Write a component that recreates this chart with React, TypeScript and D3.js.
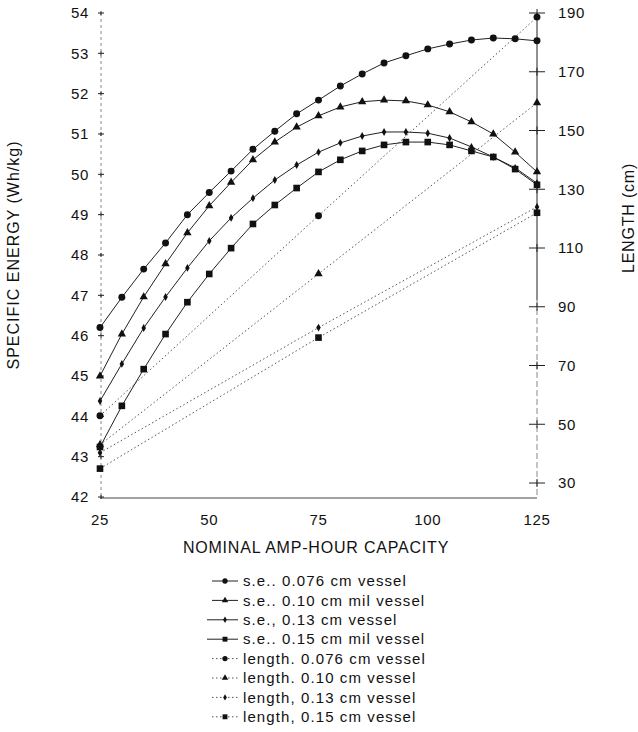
import React, { useEffect, useRef } from 'react';
import * as d3 from 'd3';

// nominal amp-hour capacity for the specific energy curves
const capacity = [25, 30, 35, 40, 45, 50, 55, 60, 65, 70, 75, 80, 85, 90, 95, 100, 105, 110, 115, 120, 125];

// specific energy (Wh/kg)
const se076 = [46.2, 46.95, 47.65, 48.3, 49.0, 49.55, 50.08, 50.62, 51.07, 51.5, 51.84, 52.19, 52.49, 52.76, 52.94, 53.11, 53.23, 53.33, 53.38, 53.36, 53.31];
const se010 = [45.0, 46.04, 46.96, 47.78, 48.55, 49.22, 49.8, 50.36, 50.8, 51.17, 51.45, 51.67, 51.8, 51.84, 51.82, 51.72, 51.55, 51.3, 51.0, 50.55, 50.06];
const se013 = [44.38, 45.3, 46.19, 46.96, 47.68, 48.35, 48.92, 49.41, 49.86, 50.23, 50.55, 50.78, 50.95, 51.05, 51.05, 51.02, 50.9, 50.68, 50.43, 50.16, 49.78];
const se015 = [43.24, 44.26, 45.17, 46.04, 46.83, 47.53, 48.17, 48.77, 49.24, 49.66, 50.06, 50.36, 50.58, 50.73, 50.8, 50.8, 50.73, 50.58, 50.43, 50.13, 49.74];

// length (cm)
const lengthCapacity = [25, 75, 125];
const len076 = [52.9, 121, 188.6];
const len010 = [43, 101.2, 159.4];
const len013 = [40.3, 82.9, 124];
const len015 = [34.9, 79.5, 122];

const leftTicks = [42, 43, 44, 45, 46, 47, 48, 49, 50, 51, 52, 53, 54];
const rightTicks = [30, 50, 70, 90, 110, 130, 150, 170, 190];
const xTicks = [25, 50, 75, 100, 125];

const legendLabels = [
  's.e.. 0.076 cm vessel',
  's.e.. 0.10 cm mil vessel',
  's.e., 0.13 cm vessel',
  's.e.. 0.15 cm mil vessel',
  'length. 0.076 cm vessel',
  'length. 0.10 cm vessel',
  'length, 0.13 cm vessel',
  'length, 0.15 cm vessel',
];

const font = '"Liberation Sans", Arial, Helvetica, sans-serif';

const App = () => {
  const svgRef = useRef<SVGSVGElement>(null);

  useEffect(() => {
    const svg = d3.select(svgRef.current);
    svg.selectAll('*').remove();

    const x = d3.scaleLinear().domain([25, 125]).range([100, 537]);
    const yL = d3.scaleLinear().domain([42, 54]).range([497, 13]);
    const yR = d3.scaleLinear().domain([30, 190]).range([483, 13]);

    const symbols = [
      d3.symbol().type(d3.symbolCircle).size(38),
      d3.symbol().type(d3.symbolTriangle).size(30),
      d3.symbol().type(d3.symbolDiamond).size(18),
      d3.symbol().type(d3.symbolSquare).size(44),
    ];
    const legendSymbols = [
      d3.symbol().type(d3.symbolCircle).size(22),
      d3.symbol().type(d3.symbolTriangle).size(18),
      d3.symbol().type(d3.symbolDiamond).size(12),
      d3.symbol().type(d3.symbolSquare).size(24),
    ];

    // axes
    svg.append('line')
      .attr('x1', 101).attr('x2', 101).attr('y1', 13).attr('y2', 498)
      .attr('stroke', '#888').attr('stroke-dasharray', '3,3');
    svg.append('line')
      .attr('x1', 100).attr('x2', 537).attr('y1', 498).attr('y2', 498)
      .attr('stroke', '#444');
    svg.append('line')
      .attr('x1', 537).attr('x2', 537).attr('y1', 13).attr('y2', 300)
      .attr('stroke', '#222');
    svg.append('line')
      .attr('x1', 537).attr('x2', 537).attr('y1', 300).attr('y2', 498)
      .attr('stroke', '#888').attr('stroke-dasharray', '6,3');

    const lt = svg.append('g').selectAll('g').data(leftTicks).join('g')
      .attr('transform', d => `translate(101,${yL(d)})`);
    lt.append('path').attr('d', 'M-3,0H3M0,-2V2').attr('stroke', '#222');
    lt.append('text')
      .attr('x', -12).attr('dy', '0.35em').attr('text-anchor', 'end')
      .attr('font-family', font).attr('font-size', 15).attr('letter-spacing', 0.6).attr('fill', '#111')
      .text(d => d);

    const rt = svg.append('g').selectAll('g').data(rightTicks).join('g')
      .attr('transform', d => `translate(537,${yR(d)})`);
    rt.append('path').attr('d', 'M-8,0H8M0,-4V4').attr('stroke', '#222');
    rt.append('text')
      .attr('x', 21).attr('dy', '0.35em')
      .attr('font-family', font).attr('font-size', 15).attr('letter-spacing', 0.6).attr('fill', '#111')
      .text(d => d);

    svg.append('g').selectAll('text').data(xTicks).join('text')
      .attr('x', d => x(d)).attr('y', 525).attr('text-anchor', 'middle')
      .attr('font-family', font).attr('font-size', 15).attr('letter-spacing', 0.6).attr('fill', '#111')
      .text(d => d);

    svg.append('text')
      .attr('x', 316).attr('y', 553).attr('text-anchor', 'middle')
      .attr('font-family', font).attr('font-size', 16).attr('letter-spacing', 0.8).attr('fill', '#111')
      .text('NOMINAL AMP-HOUR CAPACITY');
    svg.append('text')
      .attr('transform', 'translate(19,255) rotate(-90)').attr('text-anchor', 'middle')
      .attr('font-family', font).attr('font-size', 16).attr('letter-spacing', 1.0).attr('fill', '#111')
      .text('SPECIFIC ENERGY (Wh/kg)');
    svg.append('text')
      .attr('transform', 'translate(634,218) rotate(-90)').attr('text-anchor', 'middle')
      .attr('font-family', font).attr('font-size', 16).attr('letter-spacing', 0.8).attr('fill', '#111')
      .text('LENGTH (cm)');

    // length series, dotted
    const lenSeries = [len076, len010, len013, len015];
    const lenLine = d3.line<number>()
      .x((_, i) => x(lengthCapacity[i]))
      .y(d => yR(d));
    lenSeries.forEach((vals, k) => {
      svg.append('path')
        .datum(vals)
        .attr('fill', 'none')
        .attr('stroke', '#555')
        .attr('stroke-width', 1)
        .attr('stroke-dasharray', '1.5,2.5')
        .attr('d', lenLine);
      svg.append('g').selectAll('path').data(vals).join('path')
        .attr('transform', (d, i) => `translate(${x(lengthCapacity[i])},${yR(d)})`)
        .attr('d', symbols[k]())
        .attr('fill', '#111');
    });

    // specific energy series, solid
    const seSeries = [se076, se010, se013, se015];
    const seLine = d3.line<number>()
      .x((_, i) => x(capacity[i]))
      .y(d => yL(d));
    seSeries.forEach((vals, k) => {
      svg.append('path')
        .datum(vals)
        .attr('fill', 'none')
        .attr('stroke', '#222')
        .attr('stroke-width', 1)
        .attr('d', seLine);
      svg.append('g').selectAll('path').data(vals).join('path')
        .attr('transform', (d, i) => `translate(${x(capacity[i])},${yL(d)})`)
        .attr('d', symbols[k]())
        .attr('fill', '#111');
    });

    // legend
    const lg = svg.append('g').selectAll('g').data(legendLabels).join('g')
      .attr('transform', (_, i) => `translate(0,${581 + i * 19.4})`);
    lg.append('line')
      .attr('x1', (_, i) => (i === 2 || i === 3 ? 207 : 212)).attr('x2', 238).attr('y1', 0).attr('y2', 0)
      .attr('stroke', (_, i) => (i < 4 ? '#222' : '#555'))
      .attr('stroke-dasharray', (_, i) => (i < 4 ? null : '1.5,2.5'));
    lg.append('path')
      .attr('transform', 'translate(225,0)')
      .attr('d', (_, i) => legendSymbols[i % 4]())
      .attr('fill', '#111');
    lg.append('text')
      .attr('x', 243).attr('dy', '0.35em')
      .attr('font-family', font).attr('font-size', 15).attr('letter-spacing', 1.1).attr('fill', '#111')
      .text(d => d);
  }, []);

  return (
    <svg
      ref={svgRef}
      width={638}
      height={732}
      style={{ position: 'absolute', left: 0, top: 0, background: '#fff' }}
    />
  );
};

export default App;
